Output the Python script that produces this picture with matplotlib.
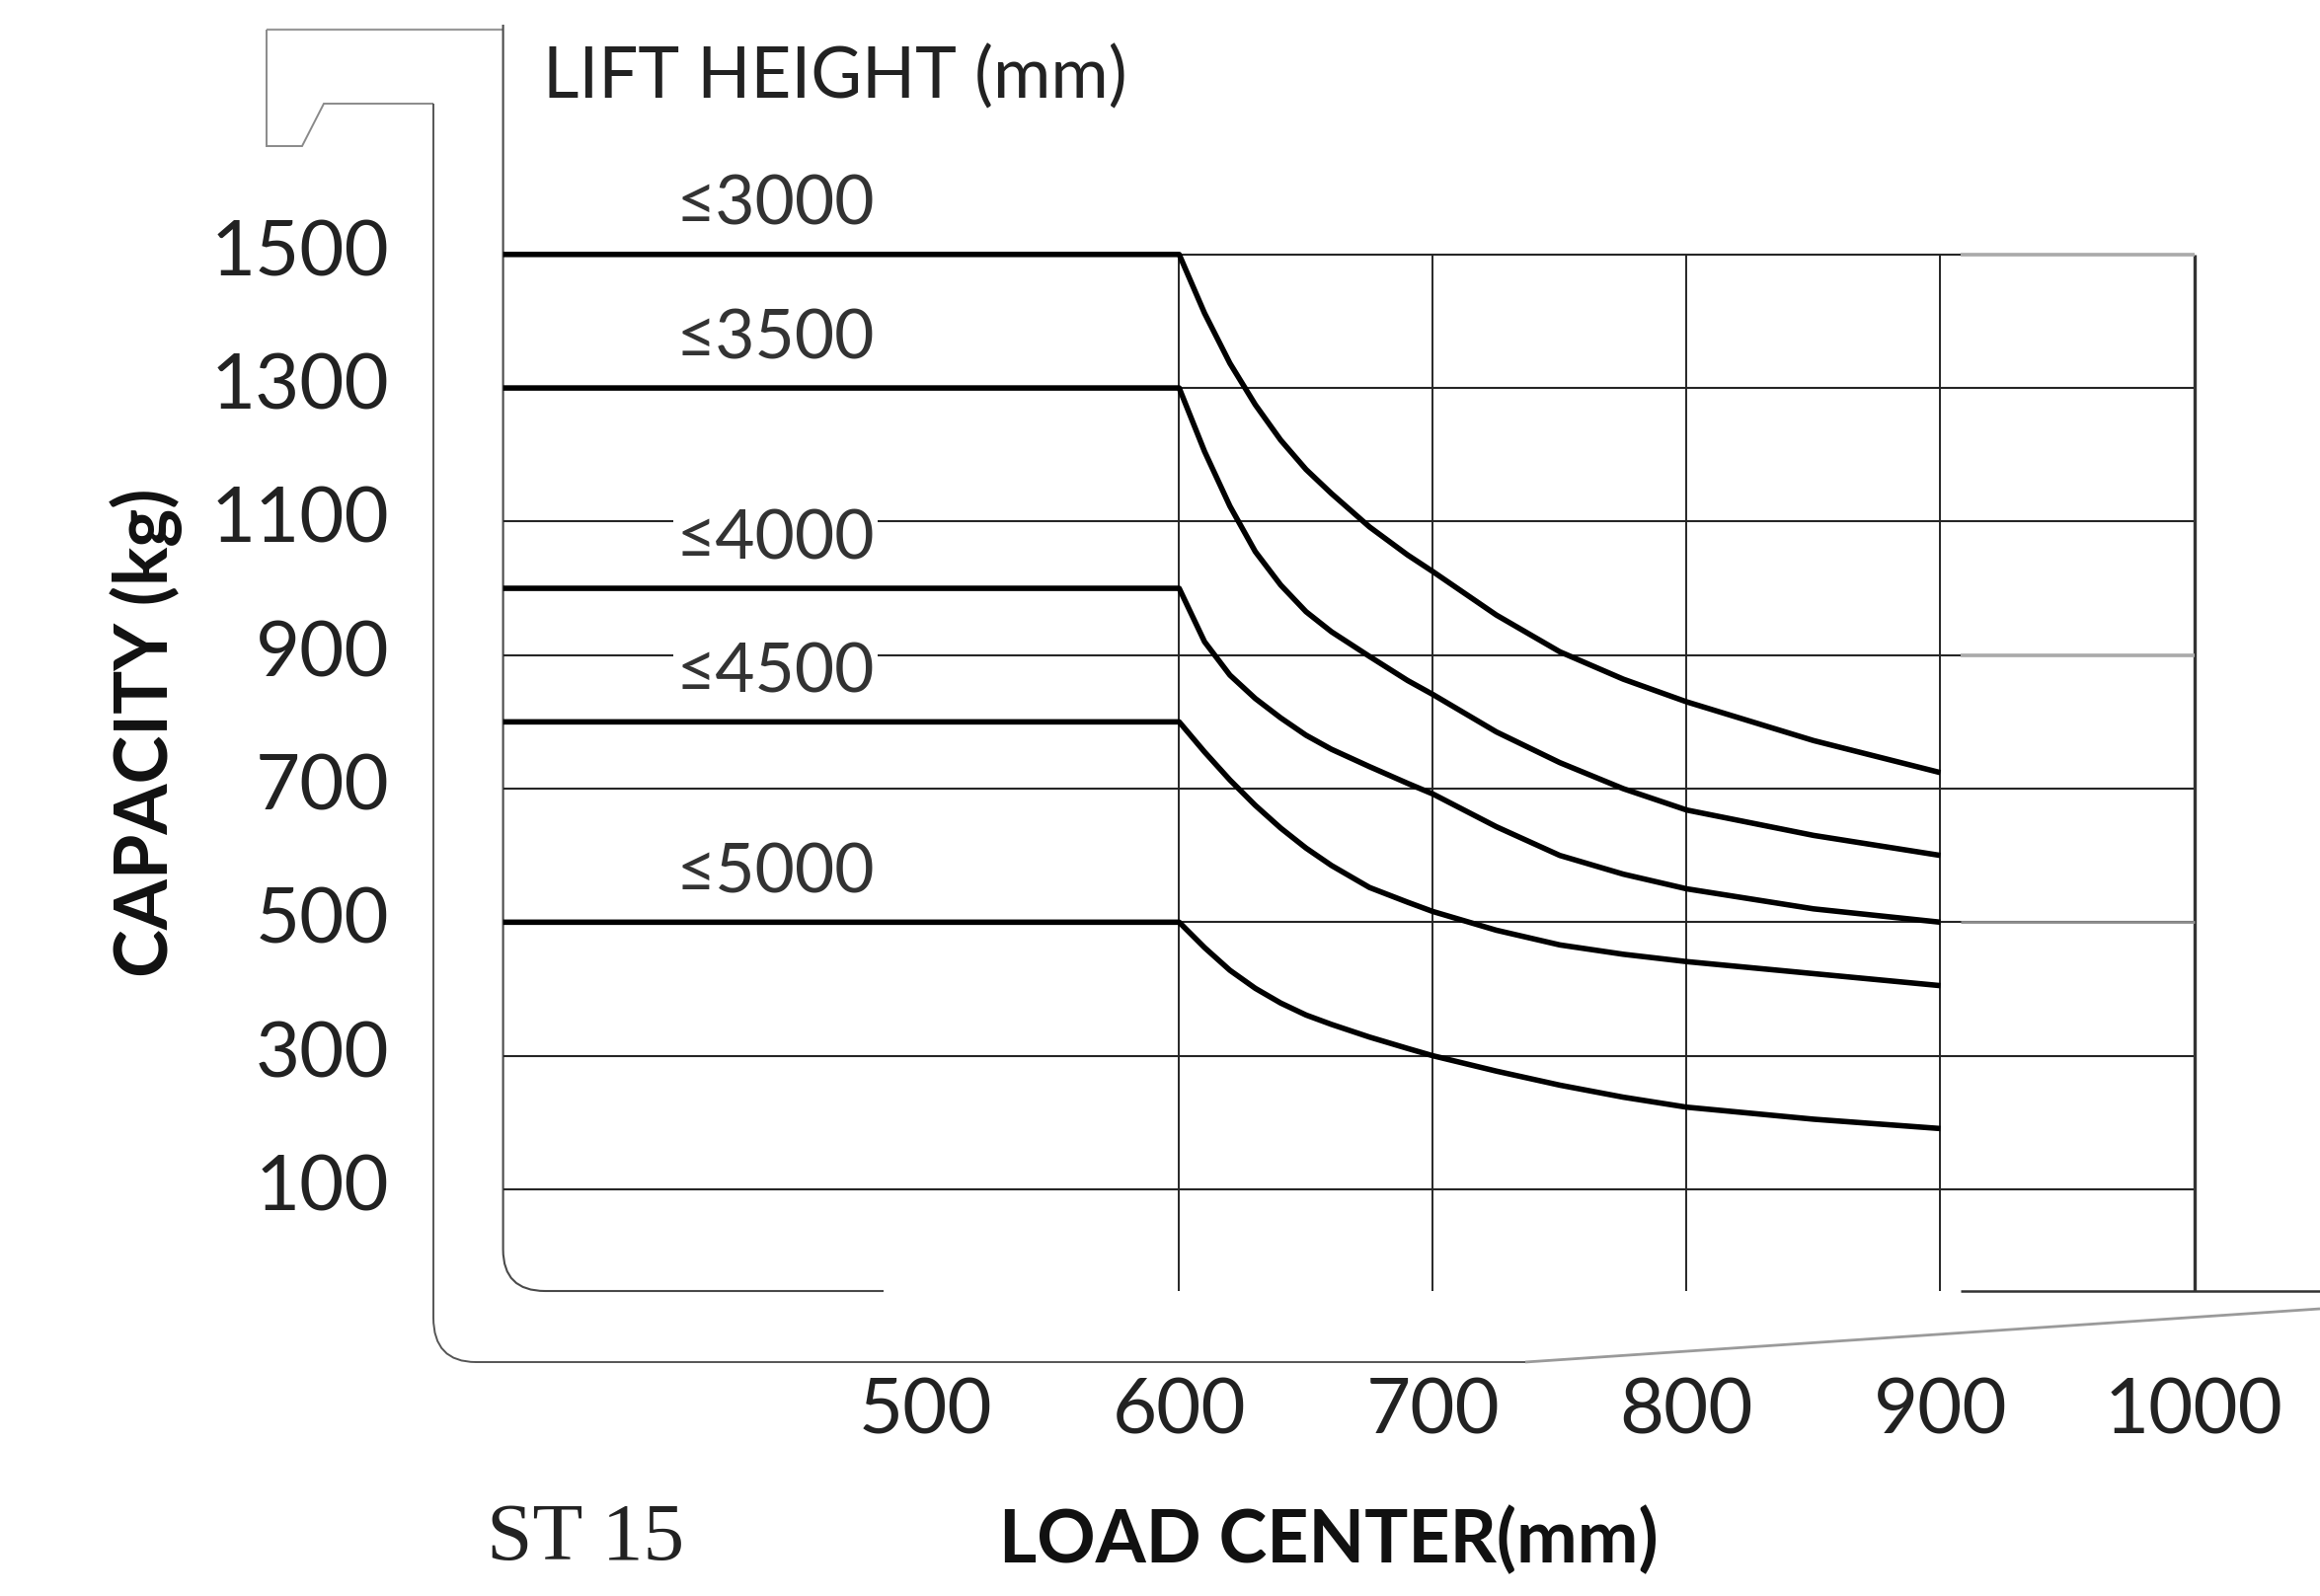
import matplotlib
matplotlib.use("Agg")
import matplotlib.pyplot as plt
from matplotlib import font_manager
from matplotlib.path import Path
from matplotlib.patches import PathPatch

# load chart (load center mm -> capacity kg)
load_center = [600, 610, 620, 630, 640, 650, 660, 675, 690, 700, 725, 750, 775, 800, 850, 900]
lift_heights = ["≤3000", "≤3500", "≤4000", "≤4500", "≤5000"]
cap_3000 = [1500, 1412, 1337, 1275, 1222, 1178, 1142, 1092, 1050, 1025, 960, 905, 864, 830, 772, 724]
cap_3500 = [1300, 1205, 1123, 1055, 1005, 965, 935, 898, 862, 841, 785, 739, 700, 668, 630, 600]
cap_4000 = [1000, 920, 870, 835, 806, 780, 759, 733, 708, 692, 643, 600, 572, 550, 520, 500]
cap_4500 = [800, 755, 713, 675, 641, 611, 585, 552, 530, 516, 488, 466, 452, 441, 423, 405]
cap_5000 = [500, 462, 428, 401, 379, 361, 347, 328, 311, 300, 277, 256, 238, 223, 205, 191]

capacity_ticks = [100, 300, 500, 700, 900, 1100, 1300, 1500]
center_ticks = [500, 600, 700, 800, 900, 1000]

# geometry of the drawing (data units)
fork_x = 333.6      # face of the fork where the rated lines start
floor_y = -53       # bottom of the grid
label_x = 441
label_dy = 73

names = {f.name for f in font_manager.fontManager.ttflist}
if "Liberation Sans Narrow" in names:
    bold_font, load_size, cap_size = "Liberation Sans Narrow", 60, 57
else:
    bold_font, load_size, cap_size = "Lato", 53, 53

fig = plt.figure(figsize=(23.5, 16.17), dpi=100)
fig.patch.set_facecolor("white")

# pixel axes for the fork outline and the free text
deco = fig.add_axes([0, 0, 1, 1])
deco.set_xlim(0, 2350)
deco.set_ylim(1617, 0)
deco.axis("off")

ax = fig.add_axes([0, 0, 1, 1])
ax.set_xlim(135.3, 1049.6)
ax.set_ylim(-509, 1881)
ax.axis("off")
ax.patch.set_visible(False)


def draw_path(verts, codes, color, lw):
    deco.add_patch(PathPatch(Path(verts, codes), facecolor="none",
                             edgecolor=color, lw=lw, capstyle="butt"))


M, L, C = Path.MOVETO, Path.LINETO, Path.CURVE3
# top of the carriage
draw_path([(270, 30), (510, 30)], [M, L], "#9a9a9a", 1.6)
draw_path([(270, 30), (270, 148), (306, 148), (328, 105), (439, 105)],
          [M, L, L, L, L], "#8a8a8a", 1.4)
# outer edge of the fork
draw_path([(439, 105), (439, 1335), (439, 1380), (482, 1380), (1545, 1380)],
          [M, L, C, C, L], "#555555", 1.4)
draw_path([(1545, 1380), (2350, 1326)], [M, L], "#9a9a9a", 2.0)
# inner edge of the fork
draw_path([(509.6, 25), (509.6, 1266), (509.6, 1308), (552, 1308), (895, 1308)],
          [M, L, C, C, L], "#4a4a4a", 1.5)
draw_path([(1986, 1308), (2350, 1308)], [M, L], "#333333", 1.8)

# grid
ax.hlines(capacity_ticks, fork_x, center_ticks[-1], color="#262626", lw=1.5, zorder=1)
ax.vlines(center_ticks[1:-1], floor_y, capacity_ticks[-1], color="#262626", lw=1.4, zorder=1)
ax.vlines(center_ticks[-1], floor_y, capacity_ticks[-1], color="#333333", lw=2.4, zorder=1)
# faded segments of the printed grid in the last column
ax.hlines([1500, 900], 908, center_ticks[-1], color="#aaaaaa", lw=2.6, zorder=2)
ax.hlines([500], 908, center_ticks[-1], color="#8c8c8c", lw=2.0, zorder=2)

# rated capacity curves
for name, cap in zip(lift_heights, [cap_3000, cap_3500, cap_4000, cap_4500, cap_5000]):
    ax.plot([fork_x] + load_center, [cap[0]] + cap, color="black", lw=4.0,
            solid_capstyle="butt", solid_joinstyle="round", zorder=4)
    ax.text(label_x, cap[0] + label_dy, name, ha="center", va="center",
            fontsize=50, color="#333333", family=["Lato", "DejaVu Sans"], zorder=3,
            bbox=dict(facecolor="white", edgecolor="none", pad=2))

# tick labels
for v in capacity_ticks:
    ax.text(288.7, v, str(v), ha="right", va="center", fontsize=56,
            color="#222222", family="Lato")
for v in center_ticks:
    ax.text(v, -234, str(v), ha="center", va="center", fontsize=56,
            color="#222222", family="Lato")

deco.text(550, 99, "LIFT HEIGHT (mm)", ha="left", va="baseline", fontsize=51,
          color="#222222", family="Lato")
deco.text(170, 742, "CAPACITY (kg)", ha="center", va="baseline", rotation=90,
          rotation_mode="anchor", fontsize=cap_size, fontweight="bold",
          color="#111111", family=bold_font)
deco.text(493, 1580, "ST 15", ha="left", va="baseline", fontsize=60,
          color="#222222", family="Liberation Serif")
deco.text(1012, 1583, "LOAD CENTER(mm)", ha="left", va="baseline",
          fontsize=load_size, fontweight="bold", color="#111111", family=bold_font)

fig.savefig("out.png", dpi=100, facecolor="white")
